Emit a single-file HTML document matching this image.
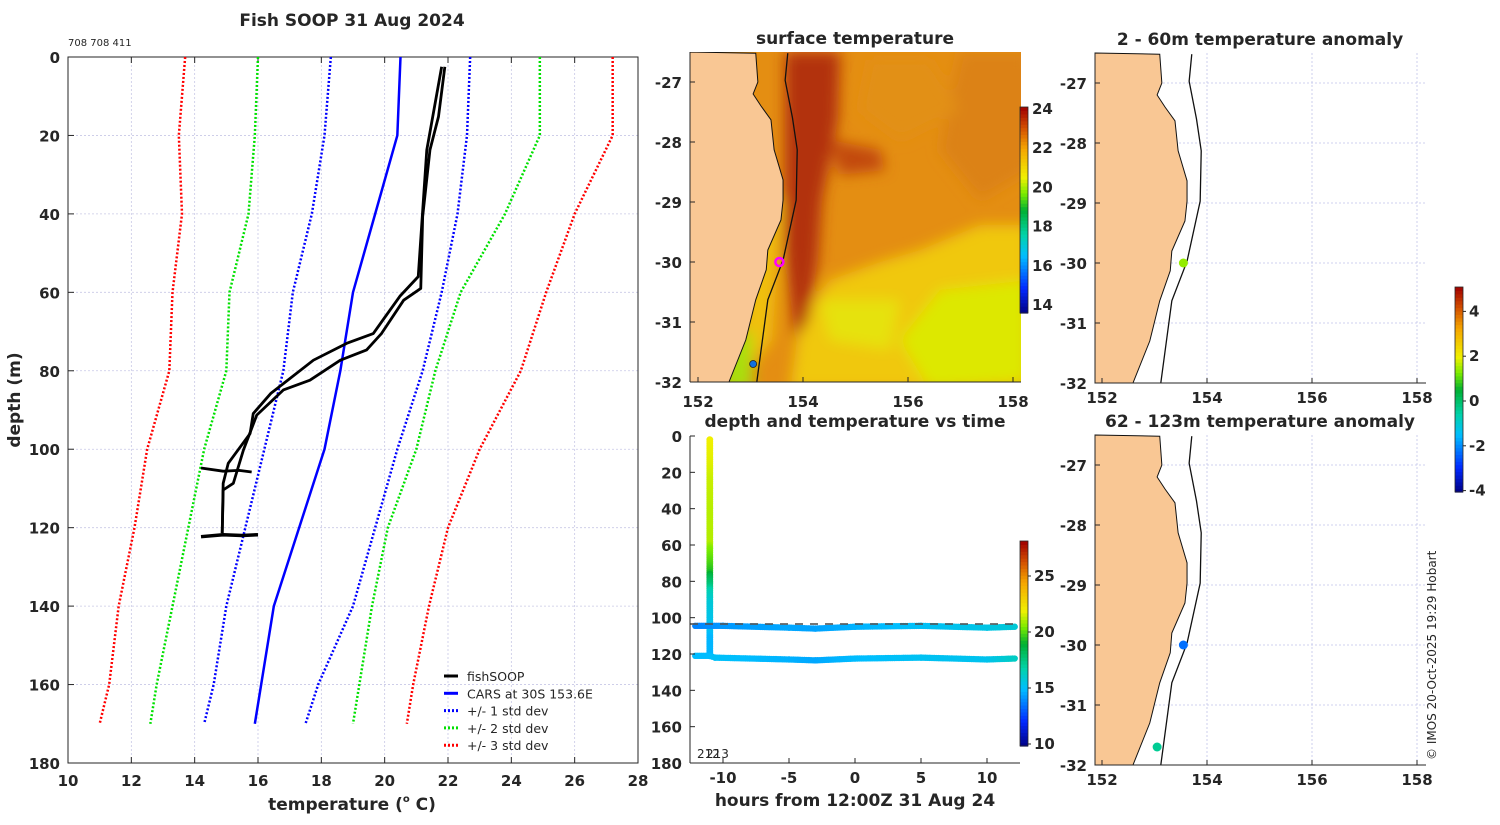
<!DOCTYPE html>
<html><head><meta charset="utf-8"><style>
body{margin:0;background:#fff;width:1500px;height:820px;overflow:hidden}
svg text{font-family:"DejaVu Sans","Liberation Sans",sans-serif;fill:#262626}
.t{font-weight:bold;font-size:17px}
.tk{font-weight:bold;font-size:15px}
.n{font-weight:normal}
</style></head><body>
<svg id="s" width="1500" height="820" xmlns="http://www.w3.org/2000/svg">
<defs>
<filter id="blur" x="-20%" y="-20%" width="140%" height="140%"><feGaussianBlur stdDeviation="7"/></filter>
<clipPath id="clipSST"><rect x="690" y="52" width="331" height="330"/></clipPath>
</defs>
<text x="352" y="810" class="t" text-anchor="middle">temperature (<tspan font-size="10" dy="-8">o</tspan><tspan dy="8"> C)</tspan></text>
</svg>
<script>
// ---- profile data ----
const depths=[0,20,40,60,80,100,120,140,160,170];
const cars=[20.5,20.4,19.7,19.0,18.6,18.1,17.3,16.5,16.1,15.9];
const plus1=[22.7,22.6,22.3,21.8,21.2,20.4,19.7,19.0,17.9,17.5];
const minus1=[18.3,18.1,17.7,17.1,16.8,16.2,15.6,15.0,14.6,14.3];
const plus2=[24.9,24.9,23.8,22.4,21.6,21.0,20.1,19.6,19.2,19.0];
const minus2=[16.0,15.9,15.7,15.1,15.0,14.3,13.8,13.3,12.8,12.6];
const plus3=[27.2,27.2,26.0,25.1,24.3,23.0,22.0,21.4,20.9,20.7];
const minus3=[13.7,13.5,13.6,13.3,13.2,12.5,12.1,11.6,11.3,11.0];
const fishDownDepth=[2.5,15.2,23.7,40.7,59,62,70.5,74.7,77.3,82.4,84.9,91.3,100.2,108.7,110.4,121.4];
const fishDownTemp=[21.9,21.7,21.43,21.2,21.14,20.6,19.9,19.43,18.6,17.64,16.8,15.96,15.54,15.22,14.9,14.87];
const fishUpDepth=[121.4,108.7,103.6,96,90.9,85.8,77.3,73,70.5,61,56,23.7,2.5];
const fishUpTemp=[14.87,14.9,15.06,15.75,15.85,16.4,17.75,18.8,19.64,20.48,21.06,21.33,21.8];
const tempTicks=[10,12,14,16,18,20,22,24,26,28];
const depthTicks=[0,20,40,60,80,100,120,140,160,180];
// ---- time series ----
const castHour=-11.0;
const track1Hours=[-12.1,-10,-5,-3,0,5,10,12.1];
const track1Depth=[104.5,104.5,105.5,106,105,104.5,105.5,105];
const track1Temp=[13.9,14.3,14.6,14.5,14.8,15.2,15.6,15.9];
const track2Hours=[-12.1,-11,-10.6,-5,-3,0,5,10,12.1];
const track2Depth=[121,121,122,123,123.5,122.5,122,123,122.5];
const track2Temp=[15.0,15.0,15.2,14.8,14.6,15.0,15.3,15.4,16.3];
const hourTicks=[-10,-5,0,5,10];
// ---- maps ----
const coastLon=[153.10,153.14,153.05,153.2,153.39,153.45,153.62,153.62,153.58,153.33,153.30,153.10,152.91,152.59];
const coastLat=[-26.52,-27.0,-27.2,-27.4,-27.63,-28.13,-28.63,-28.97,-29.3,-29.8,-30.13,-30.63,-31.3,-32.0];
const isoLon=[153.71,153.66,153.8,153.89,153.87,153.62,153.33,153.12];
const isoLat=[-26.52,-26.97,-27.6,-28.13,-28.97,-29.97,-30.63,-32.0];
const lonTicks=[152,154,156,158];
const latTicks=[-27,-28,-29,-30,-31,-32];
const obsLon=[153.55,153.05];
const obsLat=[-30.0,-31.7];
const anomUpper=[1.5];
const anomLower=[-2.2,-0.3];

const S=document.getElementById('s');
const NS='http://www.w3.org/2000/svg';
function mk(tag,at,parent){const e=document.createElementNS(NS,tag);for(const k in at)e.setAttribute(k,at[k]);(parent||S).appendChild(e);return e;}
function txt(x,y,s,cls,anchor,extra){const e=mk('text',Object.assign({x:x,y:y,'class':cls,'text-anchor':anchor||'middle'},extra||{}));e.textContent=s;return e;}
const stops=[[0,[0,0,130]],[0.12,[0,40,255]],[0.28,[0,190,255]],[0.38,[0,210,170]],[0.5,[0,176,50]],[0.58,[120,235,0]],[0.66,[240,240,0]],[0.8,[245,165,0]],[0.9,[210,80,0]],[1,[160,0,0]]];
function cmap(t){t=Math.max(0,Math.min(1,t));for(let i=1;i<stops.length;i++){if(t<=stops[i][0]){const a=stops[i-1],b=stops[i],f=(t-a[0])/(b[0]-a[0]);const c=a[1].map((v,j)=>Math.round(v+(b[1][j]-v)*f));return `rgb(${c[0]},${c[1]},${c[2]})`;}}return 'rgb(160,0,0)';}
function colorbar(x,y0,y1,name){const g=mk('g',{});const n=60;for(let i=0;i<n;i++){mk('rect',{x:x,y:y1-(i+1)*(y1-y0)/n,width:8,height:(y1-y0)/n+0.6,fill:cmap((i+0.5)/n)},g);}mk('rect',{x:x,y:y0,width:8,height:y1-y0,fill:'none',stroke:'#262626','stroke-width':0.8},g);return g;}

// ================= LEFT PROFILE =================
const PX0=68,PX1=638,PY0=57,PY1=763;
const tx=t=>PX0+(t-10)/18*(PX1-PX0);
const dy=d=>PY0+d/180*(PY1-PY0);
const pg=mk('g',{});
tempTicks.forEach(t=>{mk('line',{x1:tx(t),x2:tx(t),y1:PY0,y2:PY1,stroke:'#c8c8e6','stroke-width':0.8,'stroke-dasharray':'2,2'},pg);mk('line',{x1:tx(t),x2:tx(t),y1:PY1,y2:PY1-6,stroke:'#262626'},pg);mk('line',{x1:tx(t),x2:tx(t),y1:PY0,y2:PY0+6,stroke:'#262626'},pg);txt(tx(t),PY1+23,t,'tk');});
depthTicks.forEach(d=>{mk('line',{x1:PX0,x2:PX1,y1:dy(d),y2:dy(d),stroke:'#c8c8e6','stroke-width':0.8,'stroke-dasharray':'2,2'},pg);mk('line',{x1:PX0,x2:PX0+6,y1:dy(d),y2:dy(d),stroke:'#262626'},pg);txt(PX0-8,dy(d)+6,d,'tk','end');});
mk('rect',{x:PX0,y:PY0,width:PX1-PX0,height:PY1-PY0,fill:'none',stroke:'#262626','stroke-width':1},pg);
function profLine(temps,deps,col,dash,w,name){const p=mk('polyline',{points:temps.map((t,i)=>tx(t)+','+dy(deps[i])).join(' '),fill:'none',stroke:col,'stroke-width':w,'stroke-dasharray':dash||'none','stroke-linejoin':'round'},pg);}
profLine(plus3,depths,'#ff0000','2,2',2.5,'plus3-std-line');profLine(minus3,depths,'#ff0000','2,2',2.5,'minus3-std-line');
profLine(plus2,depths,'#00e000','2,2',2.5,'plus2-std-line');profLine(minus2,depths,'#00e000','2,2',2.5,'minus2-std-line');
profLine(plus1,depths,'#0000ff','2,2',2.5,'plus1-std-line');profLine(minus1,depths,'#0000ff','2,2',2.5,'minus1-std-line');
profLine(cars,depths,'#0000ff',null,2.5,'cars-line');
profLine(fishDownTemp,fishDownDepth,'#000',null,2.8,'fish-down-line');
profLine(fishUpTemp,fishUpDepth,'#000',null,2.8,'fish-up-line');
profLine([14.2,14.9,15.4,15.8],[104.8,105.6,105.4,105.8],'#000',null,2.8,'fish-bottom-1');
profLine([14.2,14.9,15.5,16.0],[122.3,121.8,122.0,121.8],'#000',null,3.5,'fish-bottom-2');
txt(352,26,'Fish SOOP 31 Aug 2024','t');
txt(68,46,'708 708 411','n','start',{'font-size':'10px'});
txt(20,400,'depth (m)','t','middle',{transform:'rotate(-90 20 400)'});
// legend
const leg=[['fishSOOP','#000',null],['CARS at 30S 153.6E','#0000ff',null],['+/- 1 std dev','#0000ff','2,2'],['+/- 2 std dev','#00e000','2,2'],['+/- 3 std dev','#ff0000','2,2']];
leg.forEach((l,i)=>{const y=676+i*17.3;const g=mk('g',{});mk('line',{x1:444,x2:458,y1:y,y2:y,stroke:l[1],'stroke-width':3,'stroke-dasharray':l[2]||'none'},g);const t=txt(467,y+5,l[0],'n','start',{'font-size':'12.5px'});g.appendChild(t);});

// ================= SST MAP =================
const ML=690,MR=1021,MT=52,MB=382;
const lx=(lon,x152)=>x152+(lon-152)*52.5;
const ly=(lat,top)=>top+(lat+26.5)*-60;
const sst=mk('g',{'clip-path':'url(#clipSST)'});
mk('rect',{x:ML,y:MT,width:MR-ML,height:MB-MT,fill:'#e48e12'},sst);
const f=mk('g',{filter:'url(#blur)'},sst);
mk('polygon',{points:'960,52 1030,52 1030,170 980,200 940,150',fill:'#dc8218'},f);
mk('polygon',{points:'870,60 930,60 960,110 900,140 860,110',fill:'#e29015'},f);
mk('polygon',{points:'920,250 980,225 1030,225 1030,390 790,390 800,320 830,280 880,262',fill:'#f0c808'},f);
mk('polygon',{points:'940,290 1030,280 1030,380 930,390 900,340',fill:'#dde806'},f);
mk('polygon',{points:'820,300 900,300 890,350 830,340',fill:'#e6e20a'},f);
mk('polygon',{points:'785,52 840,52 838,120 822,200 818,260 808,320 795,340 785,250 785,180',fill:'#b2300a'},f);
mk('polygon',{points:'830,140 880,150 885,170 840,175',fill:'#c24a0e'},f);
mk('polygon',{points:'762,200 782,200 772,340 740,380 735,360',fill:'#f0c010'},f);
mk('polygon',{points:'728,340 752,330 752,390 722,390',fill:'#a8e010'},f);
const cpts=coastLon.map((l,i)=>lx(l,698)+','+ly(coastLat[i],52)).join(' ');
mk('polygon',{points:ML+','+MT+' '+cpts+' '+ML+','+MB,fill:'#f9c794',stroke:'#111','stroke-width':1},sst);
mk('polyline',{points:isoLon.map((l,i)=>lx(l,698)+','+ly(isoLat[i],52)).join(' '),fill:'none',stroke:'#111','stroke-width':1.3},sst);
mk('circle',{cx:lx(obsLon[0],698),cy:ly(obsLat[0],52),r:4,fill:'none',stroke:'#ff00ff','stroke-width':2.5},sst);
mk('circle',{cx:lx(obsLon[1],698),cy:ly(obsLat[1],52),r:3.5,fill:'#1070e0',stroke:'#222','stroke-width':0.8},sst);
mk('line',{x1:ML,x2:MR,y1:MB,y2:MB,stroke:'#262626'});mk('line',{x1:ML,x2:ML,y1:MT,y2:MB,stroke:'#262626'});
lonTicks.forEach(l=>{mk('line',{x1:lx(l,698),x2:lx(l,698),y1:MB,y2:MB-5,stroke:'#262626'});txt(lx(l,698),MB+25,l,'tk');});
latTicks.forEach(l=>{mk('line',{x1:ML,x2:ML+5,y1:ly(l,52),y2:ly(l,52),stroke:'#262626'});txt(ML-8,ly(l,52)+6,l,'tk','end');});
txt(855,44,'surface temperature','t');
colorbar(1020,107,313,'sst-colorbar');
[14,16,18,20,22,24].forEach(v=>{const y=305-(v-14)*19.6;txt(1032,y+5,v,'tk','start',{'font-size':'12.5px'});});

// ================= ANOMALY MAPS =================
function anomMap(top,title,vals,name,idx){
  const g=mk('g',{});
  const L=1095,R=1426,T=top,B=top+330;const X152=1102;
  lonTicks.forEach(l=>mk('line',{x1:lx(l,X152),x2:lx(l,X152),y1:T,y2:B,stroke:'#c0c4ea','stroke-dasharray':'2,2','stroke-width':0.8},g));
  latTicks.forEach(l=>mk('line',{x1:L,x2:R,y1:ly(l,T),y2:ly(l,T),stroke:'#c0c4ea','stroke-dasharray':'2,2','stroke-width':0.8},g));
  const pts=coastLon.map((l,i)=>lx(l,X152)+','+ly(coastLat[i],T)).join(' ');
  mk('polygon',{points:L+','+T+' '+pts+' '+L+','+B,fill:'#f9c794',stroke:'#111','stroke-width':1},g);
  mk('polyline',{points:isoLon.map((l,i)=>lx(l,X152)+','+ly(isoLat[i],T)).join(' '),fill:'none',stroke:'#111','stroke-width':1.3},g);
  mk('line',{x1:L,x2:R,y1:B,y2:B,stroke:'#262626'},g);mk('line',{x1:L,x2:L,y1:T,y2:B,stroke:'#262626'},g);
  lonTicks.forEach(l=>{mk('line',{x1:lx(l,X152),x2:lx(l,X152),y1:B,y2:B-5,stroke:'#262626'},g);g.appendChild(txt(lx(l,X152),B+20,l,'tk'));});
  latTicks.forEach(l=>{mk('line',{x1:L,x2:L+5,y1:ly(l,T),y2:ly(l,T),stroke:'#262626'},g);g.appendChild(txt(L-8,ly(l,T)+6,l,'tk','end'));});
  vals.forEach((v,i)=>{const c=mk('circle',{cx:lx(obsLon[idx[i]],X152),cy:ly(obsLat[idx[i]],T),r:4.5,fill:cmap((v+4)/9.2)},g);});
  g.appendChild(txt(1260,top-8,title,'t'));
}
anomMap(53,'2 - 60m temperature anomaly',anomUpper,'anomaly-map-upper',[0]);
anomMap(435,'62 - 123m temperature anomaly',anomLower,'anomaly-map-lower',[0,1]);
colorbar(1455,287,492,'anomaly-colorbar');
[-4,-2,0,2,4].forEach(v=>{const y=401-v*22.4;mk('line',{x1:1463,x2:1466,y1:y,y2:y,stroke:'#262626'});txt(1469,y+5,v,'tk','start',{'font-size':'12.5px'});});
txt(1436,760,'© IMOS 20-Oct-2025 19:29 Hobart','n','start',{'font-size':'12px',transform:'rotate(-90 1436 760)'});

// ================= TIME PLOT =================
const TL=690,TR=1020,TT=436,TB=763;
const hx=h=>855+h*13.2;
const ty=d=>TT+d/180*(TB-TT);
const tg=mk('g',{});
function interp(xs,ys,x){if(x<=xs[0])return ys[0];for(let i=1;i<xs.length;i++){const a=xs[i-1],b=xs[i];if((x-a)*(x-b)<=0&&a!==b){return ys[i-1]+(ys[i]-ys[i-1])*(x-a)/(b-a);}}return ys[ys.length-1];}
const tnorm=t=>(t-10)/18;
for(let d=2;d<=121;d+=1){mk('circle',{cx:hx(castHour),cy:ty(d),r:3.4,fill:cmap(tnorm(interp(fishDownDepth,fishDownTemp,d)))},tg);}
function track(hs,ds,ts,name){const g=mk('g',{},tg);for(let k=0;k<hs.length-1;k++){const n=Math.max(2,Math.round((hs[k+1]-hs[k])*6));for(let j=0;j<=n;j++){const f=j/n;const h=hs[k]+(hs[k+1]-hs[k])*f;const d=ds[k]+(ds[k+1]-ds[k])*f;const t=ts[k]+(ts[k+1]-ts[k])*f;mk('circle',{cx:hx(h),cy:ty(d),r:3.2,fill:cmap(tnorm(t))},g);}}}
track(track1Hours,track1Depth,track1Temp,'track-upper');
track(track2Hours,track2Depth,track2Temp,'track-lower');
mk('line',{x1:TL,x2:TR,y1:ty(103.5),y2:ty(103.5),stroke:'#555','stroke-width':2,'stroke-dasharray':'8,7',opacity:0.8},tg);
mk('line',{x1:TL,x2:TR,y1:TB,y2:TB,stroke:'#262626'});mk('line',{x1:TL,x2:TL,y1:TT,y2:TB,stroke:'#262626'});
hourTicks.forEach(h=>{mk('line',{x1:hx(h),x2:hx(h),y1:TB,y2:TB-5,stroke:'#262626'});txt(hx(h),TB+20,h,'tk');});
depthTicks.forEach(d=>{mk('line',{x1:TL,x2:TL+5,y1:ty(d),y2:ty(d),stroke:'#262626'});txt(TL-8,ty(d)+6,d,'tk','end');});
txt(697,758,'212','n','start',{'font-size':'12px'});txt(706,758,'213','n','start',{'font-size':'12px'});
txt(855,427,'depth and temperature vs time','t');
txt(855,806,'hours from 12:00Z 31 Aug 24','t');
colorbar(1020,541,746,'time-colorbar');
[10,15,20,25].forEach(v=>{const y=744-(v-10)*11.2;mk('line',{x1:1028,x2:1031,y1:y,y2:y,stroke:'#262626'});txt(1034,y+5,v,'tk','start',{'font-size':'12.5px'});});
</script>
</body></html>
